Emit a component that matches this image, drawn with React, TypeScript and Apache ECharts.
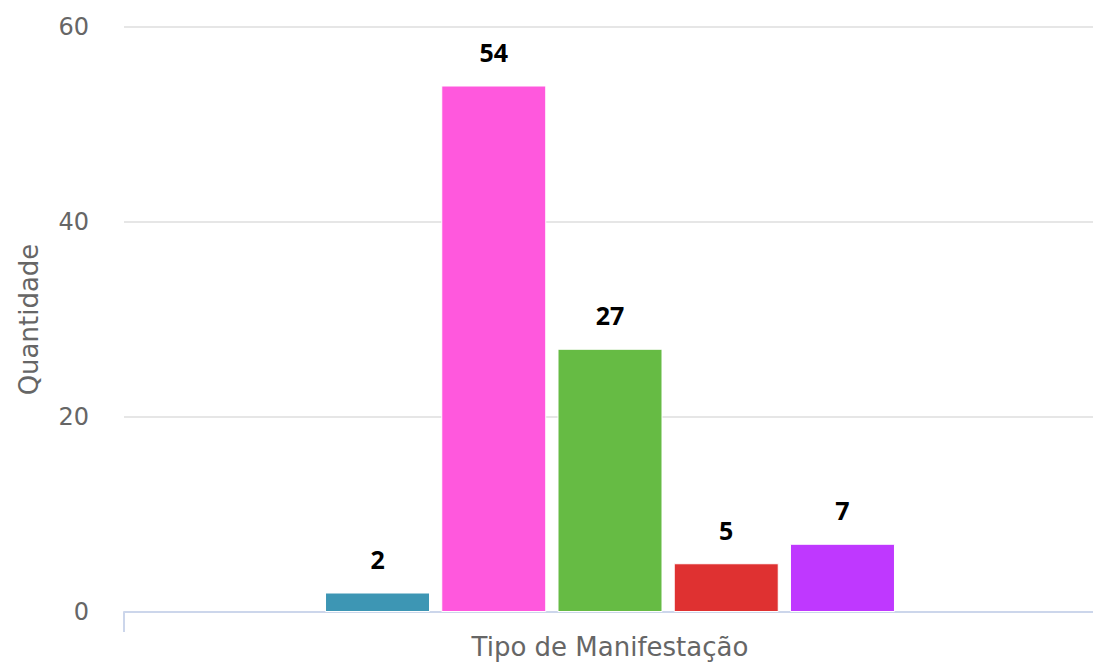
import React, { useEffect, useRef } from "react";
import * as echarts from "echarts";

const categories = ["Tipo de Manifestação"];
const seriesNames = ["Série 1", "Série 2", "Série 3", "Série 4", "Série 5"];
const seriesValues = [2, 54, 27, 5, 7];
const seriesColors = ["#3d96b4", "#ff58dd", "#66bb44", "#df3131", "#bf38ff"];
const yTicks = { min: 0, max: 60, interval: 20 };
const yTitle = "Quantidade";

const FONT = "DejaVu Sans";

export default function App() {
  const ref = useRef<HTMLDivElement>(null);
  useEffect(() => {
    if (!ref.current) return;
    const chart = echarts.init(ref.current, undefined, { renderer: "svg" });
    chart.setOption({
      animation: false,
      grid: { left: 124, right: -3, top: 27, bottom: 51, containLabel: false, outerBoundsMode: "none" },
      xAxis: {
        type: "category",
        data: categories,
        axisLine: { lineStyle: { color: "#ccd6eb", width: 2 } },
        axisTick: { show: true, length: 20, lineStyle: { color: "#ccd6eb", width: 2 } },
        axisLabel: { show: false },
        name: categories[0],
        nameLocation: "middle",
        nameGap: 22,
        nameTextStyle: { color: "#666666", fontFamily: FONT, fontSize: 26 },
      },
      yAxis: {
        type: "value",
        min: yTicks.min,
        max: yTicks.max,
        interval: yTicks.interval,
        axisLine: { show: false },
        axisTick: { show: false },
        axisLabel: { color: "#666666", fontFamily: FONT, fontSize: 24, margin: 35 },
        splitLine: { lineStyle: { color: "#e6e6e6", width: 2 } },
        name: yTitle,
        nameLocation: "middle",
        nameGap: 82,
        nameTextStyle: { color: "#666666", fontFamily: FONT, fontSize: 26 },
      },
      series: seriesValues.map((v, i) => ({
        type: "bar",
        name: seriesNames[i],
        data: [v],
        barWidth: 105,
        barGap: "10.7%",
        itemStyle: { color: seriesColors[i], borderColor: "#ffffff", borderWidth: 1 },
        label: {
          show: true,
          position: "top",
          distance: 21,
          color: "#000000",
          fontFamily: "Open Sans",
          fontWeight: "bold",
          fontSize: 25,
          textBorderColor: "#ffffff",
          textBorderWidth: 2,
        },
      })),
    });
    return () => chart.dispose();
  }, []);
  return (
    <div
      ref={ref}
      style={{ position: "fixed", left: 0, top: 0, width: 1093, height: 663, background: "#fff" }}
    />
  );
}
